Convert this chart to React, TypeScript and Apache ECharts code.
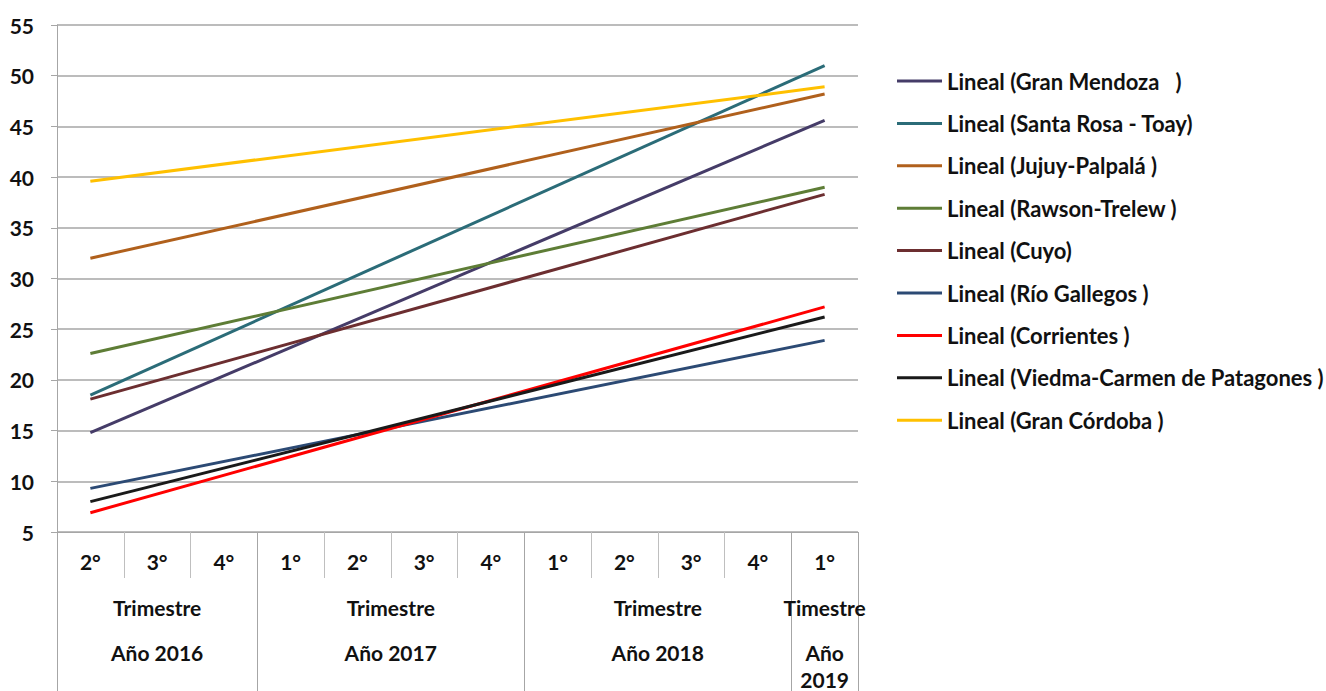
import { useEffect, useRef } from "react";
import * as echarts from "echarts";

// Quarter labels along the bottom axis
const quarters = ["2°", "3°", "4°", "1°", "2°", "3°", "4°", "1°", "2°", "3°", "4°", "1°"];

// Year groups spanning the quarters (first and last category index of each)
const groupFirst = [0, 3, 7, 11];
const groupLast = [2, 6, 10, 11];
const groupPeriodLabel = ["Trimestre", "Trimestre", "Trimestre", "Timestre"];
const groupYearLabel = ["Año 2016", "Año 2017", "Año 2018", "Año\n2019"];

// Linear trend lines: value at the first and last quarter
const seriesNames = [
  "Lineal (Gran Mendoza   )",
  "Lineal (Santa Rosa - Toay)",
  "Lineal (Jujuy-Palpalá )",
  "Lineal (Rawson-Trelew )",
  "Lineal (Cuyo)",
  "Lineal (Río Gallegos )",
  "Lineal (Corrientes )",
  "Lineal (Viedma-Carmen de Patagones )",
  "Lineal (Gran Córdoba )",
];
const trendStart = [14.8, 18.5, 32.0, 22.6, 18.1, 9.3, 6.9, 8.0, 39.6];
const trendEnd = [45.6, 51.0, 48.2, 39.0, 38.3, 23.9, 27.2, 26.2, 48.9];
const seriesColors = [
  "#453C68",
  "#2B6C78",
  "#B0601C",
  "#5E7D36",
  "#6C2E30",
  "#2C4A74",
  "#FF0000",
  "#1A1A1A",
  "#FFC000",
];

const FONT = "Lato, 'Liberation Sans', sans-serif";
const FONT_SIZE = 21;
const LEGEND_FONT_SIZE = 22;
const TEXT_COLOR = "#111111";

export default function App() {
  const ref = useRef<HTMLDivElement>(null);

  useEffect(() => {
    if (!ref.current) return;
    const chart = echarts.init(ref.current, undefined, { renderer: "svg" });

    const series = seriesNames.map((name, i) => {
      const data: (number | null)[] = quarters.map(() => null);
      data[0] = trendStart[i];
      data[quarters.length - 1] = trendEnd[i];
      return {
        name,
        type: "line" as const,
        data,
        connectNulls: true,
        symbol: "none",
        lineStyle: { color: seriesColors[i], width: 3 },
        itemStyle: { color: seriesColors[i] },
      };
    });

    chart.setOption({
      animation: false,
      backgroundColor: "#ffffff",
      grid: { left: 57, right: 468, top: 25, bottom: 159 },
      legend: {
        orient: "vertical",
        left: 897,
        top: 70,
        padding: 0,
        icon: "rect",
        itemWidth: 45,
        itemHeight: 3,
        itemGap: 20.4,
        textStyle: {
          fontFamily: FONT,
          fontWeight: "bold",
          fontSize: LEGEND_FONT_SIZE,
          lineHeight: 22,
          color: TEXT_COLOR,
        },
        data: seriesNames,
      },
      xAxis: {
        type: "category",
        data: quarters,
        boundaryGap: true,
        axisLine: { lineStyle: { color: "#a6a6a6", width: 1 } },
        axisTick: {
          show: true,
          interval: 0,
          length: 46,
          lineStyle: { color: "#bfbfbf", width: 1 },
        },
        axisLabel: {
          interval: 0,
          margin: 19,
          fontFamily: FONT,
          fontWeight: "bold",
          fontSize: FONT_SIZE,
          color: TEXT_COLOR,
        },
        splitLine: { show: false },
      },
      yAxis: {
        type: "value",
        min: 5,
        max: 55,
        interval: 5,
        axisLine: { show: true, lineStyle: { color: "#a6a6a6", width: 1 } },
        axisTick: { show: true, length: 6, lineStyle: { color: "#a6a6a6" } },
        axisLabel: {
          margin: 23,
          fontFamily: FONT,
          fontWeight: "bold",
          fontSize: FONT_SIZE,
          color: TEXT_COLOR,
        },
        splitLine: { show: true, lineStyle: { color: "#a6a6a6", width: 1.5 } },
      },
      series,
    });

    // Multi-level category labels and year separators, placed from the axis scale
    const px = (i: number) => chart.convertToPixel({ xAxisIndex: 0 }, i) as number;
    const half = (px(1) - px(0)) / 2;
    const axisY = chart.convertToPixel({ yAxisIndex: 0 }, 5) as number;
    const bottomY = 691;
    const elements: any[] = [];
    const boundaries = new Set<number>();
    groupFirst.forEach((f, g) => {
      const l = groupLast[g];
      const x0 = px(f) - half;
      const x1 = px(l) + half;
      boundaries.add(Math.round(x0));
      boundaries.add(Math.round(x1));
      const cx = (x0 + x1) / 2;
      elements.push({
        type: "text",
        x: cx,
        y: axisY + 75,
        style: {
          text: groupPeriodLabel[g],
          fontFamily: FONT,
          fontWeight: "bold",
          fontSize: FONT_SIZE,
          fill: TEXT_COLOR,
          align: "center",
          verticalAlign: "middle",
        },
        z: 10,
      });
      elements.push({
        type: "text",
        x: cx,
        y: axisY + 106.5,
        style: {
          text: groupYearLabel[g],
          fontFamily: FONT,
          fontWeight: "bold",
          fontSize: FONT_SIZE,
          lineHeight: 27,
          fill: TEXT_COLOR,
          align: "center",
          verticalAlign: "top",
        },
        z: 10,
      });
    });
    boundaries.forEach((x) => {
      elements.push({
        type: "line",
        shape: { x1: x + 0.5, y1: axisY, x2: x + 0.5, y2: bottomY },
        style: { stroke: "#a6a6a6", lineWidth: 1 },
        z: 5,
      });
    });
    chart.setOption({ graphic: elements });

    return () => chart.dispose();
  }, []);

  return (
    <div
      ref={ref}
      style={{ position: "fixed", left: 0, top: 0, width: 1326, height: 691 }}
    />
  );
}
